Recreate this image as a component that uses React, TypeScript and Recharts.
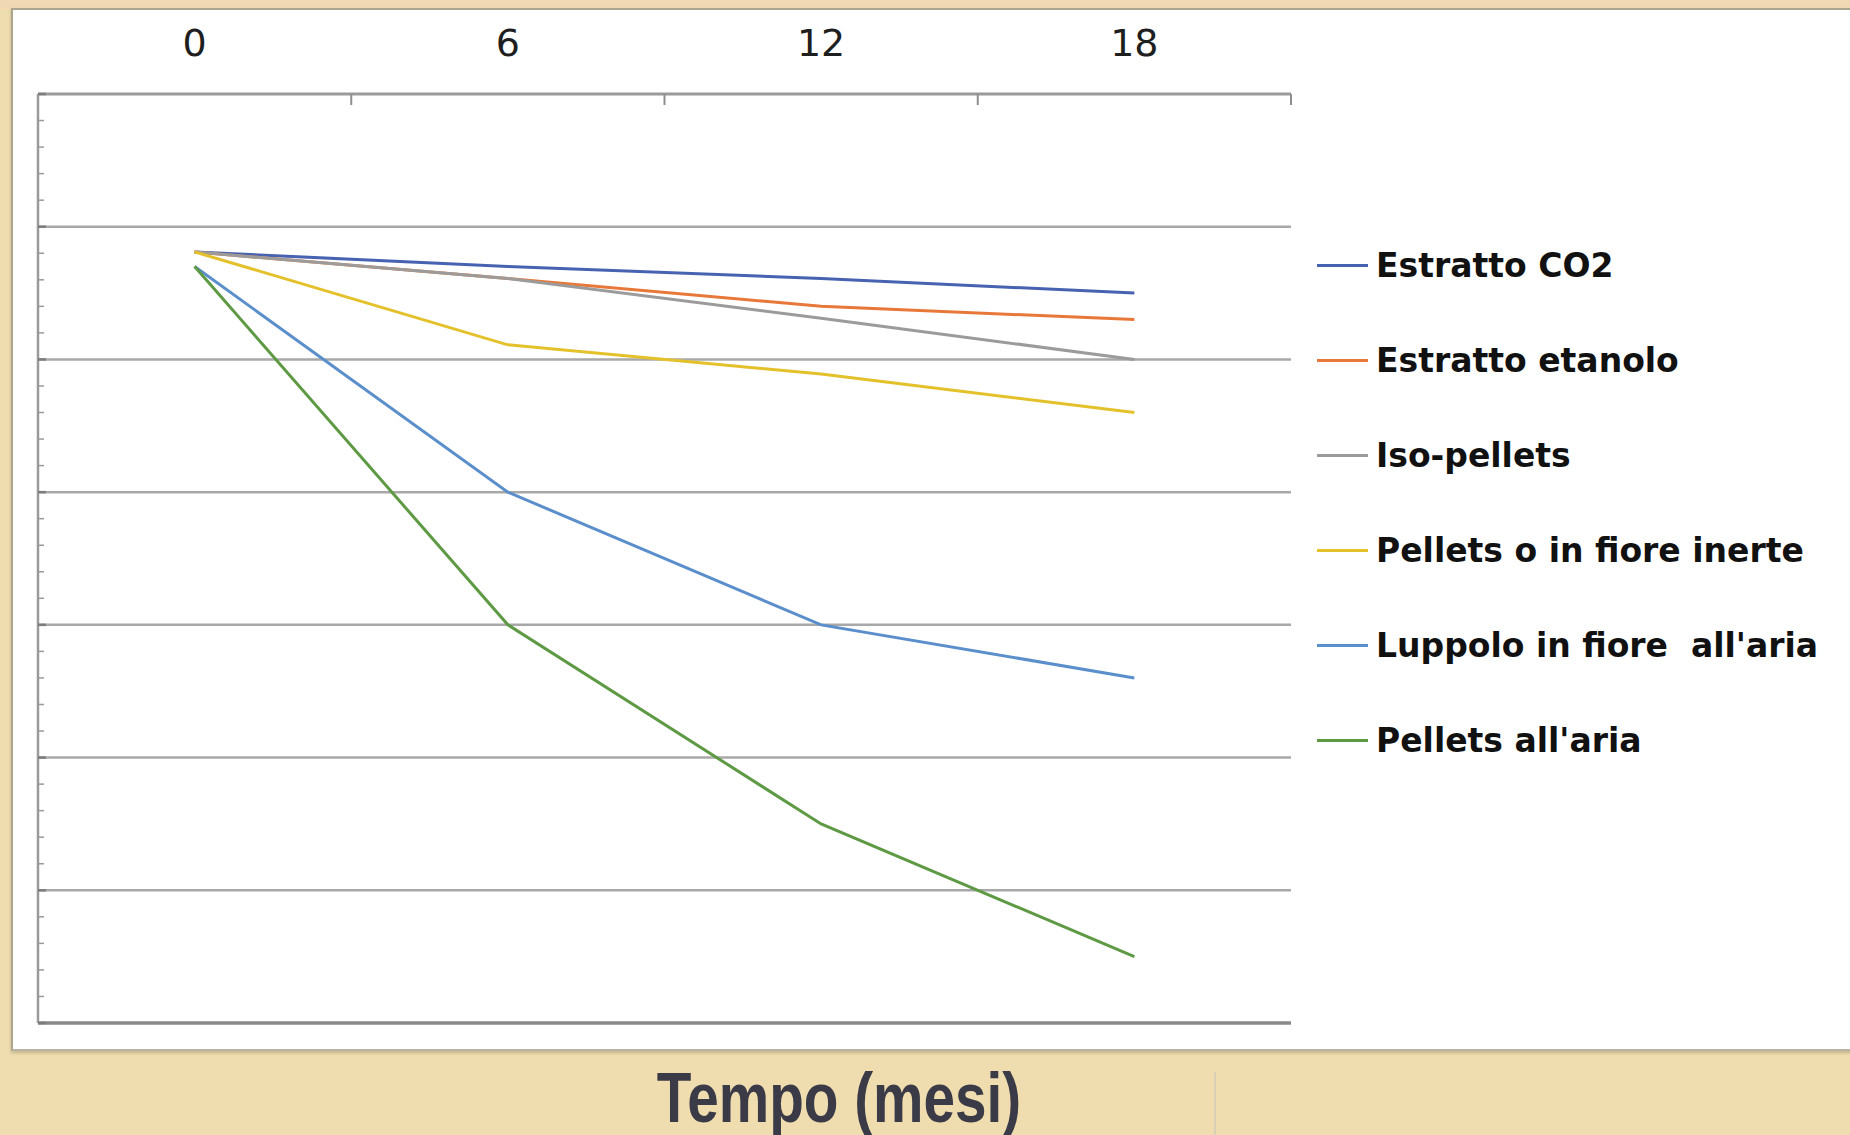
import React from 'react';
import { LineChart, Line, XAxis, YAxis, ReferenceLine, Legend } from 'recharts';

// Storage time in months
const months = [0, 6, 12, 18];
const monthLabels = ['0', '6', '12', '18'];
// Category boundaries on the top axis (tick marks between labels)
const boundaryTicks = [3, 9, 15, 21];
// Major horizontal gridlines and minor ticks on the value axis
const majorValues = [10, 20, 30, 40, 50, 60];
const minorTicks = [0, 2, 4, 6, 8, 10, 12, 14, 16, 18, 20, 22, 24, 26, 28, 30, 32, 34, 36, 38, 40, 42, 44, 46, 48, 50, 52, 54, 56, 58, 60, 62, 64, 66, 68, 70];

// Series values
const estrattoCO2 = [58.1, 57.0, 56.1, 55.0];
const estrattoEtanolo = [58.1, 56.1, 54.0, 53.0];
const isoPellets = [58.1, 56.1, 53.1, 50.0];
const pelletsInerte = [58.1, 51.1, 48.9, 46.0];
const luppoloAria = [57.0, 40.0, 30.0, 26.0];
const pelletsAria = [57.0, 30.0, 15.0, 5.0];

const seriesKeys = ['co2', 'etanolo', 'iso', 'inerte', 'luppolo', 'aria'];
const seriesNames = [
  'Estratto CO2',
  'Estratto etanolo',
  'Iso-pellets',
  'Pellets o in fiore inerte',
  "Luppolo in fiore  all'aria",
  "Pellets all'aria",
];
const seriesColors = ['#4862B2', '#E8783A', '#9B9B9B', '#E4C12A', '#5B8FCB', '#5E9944'];
const seriesValues = [estrattoCO2, estrattoEtanolo, isoPellets, pelletsInerte, luppoloAria, pelletsAria];

const data = months.map((m, i) => {
  const row: Record<string, number> = { mese: m };
  seriesKeys.forEach((k, s) => {
    row[k] = seriesValues[s][i];
  });
  return row;
});

const topTickValues = [...months, ...boundaryTicks].sort((a, b) => a - b);

const TopTick = (props: any) => {
  const { x, y, payload } = props;
  const v = payload.value;
  if (boundaryTicks.includes(v)) {
    return <line x1={x} y1={y} x2={x} y2={y + 11} stroke="#8e8e8e" strokeWidth={2} />;
  }
  const idx = months.indexOf(v);
  return (
    <text
      x={x}
      y={y - 38}
      textAnchor="middle"
      fontFamily="DejaVu Sans"
      fontSize={38}
      fill="#1e1e1e"
    >
      {monthLabels[idx]}
    </text>
  );
};

const LeftTick = (props: any) => {
  const { x, y, payload } = props;
  const major = payload.value % 10 === 0;
  return (
    <line
      x1={x}
      y1={y}
      x2={x + (major ? 8 : 6)}
      y2={y}
      stroke={major ? '#7d7d7d' : '#9a9a9a'}
      strokeWidth={major ? 2.5 : 1.5}
    />
  );
};

const LegendContent = (props: any) => {
  const items = [...(props.payload || [])].sort(
    (a: any, b: any) => seriesNames.indexOf(a.value) - seriesNames.indexOf(b.value)
  );
  return (
    <div>
      {items.map((entry: any) => (
        <div
          key={entry.value}
          style={{ height: 95, display: 'flex', alignItems: 'center' }}
        >
          <div style={{ width: 51, height: 3, background: entry.color, marginRight: 8 }} />
          <span
            style={{
              fontFamily: 'DejaVu Sans',
              fontWeight: 'bold',
              fontSize: 33,
              color: '#111111',
              whiteSpace: 'pre',
            }}
          >
            {entry.value}
          </span>
        </div>
      ))}
    </div>
  );
};

export default function App() {
  return (
    <div
      style={{
        position: 'absolute',
        left: 0,
        top: 0,
        width: 1850,
        height: 1135,
        background: '#EFDDB0',
        overflow: 'hidden',
      }}
    >
      <div style={{ position: 'absolute', left: 0, top: 0, width: 1850, height: 9, background: '#F1D8B4' }} />
      <div
        style={{
          position: 'absolute',
          left: 11,
          top: 8,
          width: 1850,
          height: 1039,
          background: '#FFFFFF',
          borderLeft: '2px solid #ABA58F',
          borderTop: '2px solid #ABA58F',
          borderBottom: '2px solid #B8B3A2',
          boxShadow: '0 2px 3px rgba(120,110,80,0.35)',
        }}
      />
      <div style={{ position: 'absolute', left: 0, top: 0 }}>
        <LineChart
          width={1850}
          height={1135}
          data={data}
          margin={{ top: 0, left: 0, right: 559, bottom: 112 }}
        >
          <XAxis
            type="number"
            dataKey="mese"
            orientation="top"
            domain={[-3, 21]}
            ticks={topTickValues}
            interval={0}
            height={94}
            tickSize={0}
            tickMargin={0}
            tickLine={false}
            axisLine={{ stroke: '#9a9a9a', strokeWidth: 3 }}
            tick={<TopTick />}
          />
          <YAxis
            type="number"
            domain={[0, 70]}
            ticks={minorTicks}
            interval={0}
            width={38}
            tickSize={0}
            tickMargin={0}
            tickLine={false}
            axisLine={{ stroke: '#9a9a9a', strokeWidth: 2.5 }}
            tick={<LeftTick />}
          />
          {majorValues.map((v) => (
            <ReferenceLine key={v} y={v} stroke="#a8a8a8" strokeWidth={2.5} />
          ))}
          <ReferenceLine y={0} stroke="#8a8a8a" strokeWidth={3.5} />
          <Legend
            layout="vertical"
            verticalAlign="middle"
            align="center"
            wrapperStyle={{ left: 1317, top: 218, width: 530, right: 'auto', bottom: 'auto' }}
            content={<LegendContent />}
          />
          {seriesKeys.map((k, s) => (
            <Line
              key={k}
              type="linear"
              dataKey={k}
              name={seriesNames[s]}
              stroke={seriesColors[s]}
              strokeWidth={3}
              dot={false}
              activeDot={false}
              isAnimationActive={false}
            />
          ))}
        </LineChart>
      </div>
      <svg
        width={1850}
        height={1135}
        style={{ position: 'absolute', left: 0, top: 0, pointerEvents: 'none' }}
      >
        <line x1={1215} y1={1072} x2={1215} y2={1135} stroke="#D9CFB6" strokeWidth={2} />
        <text
          transform="translate(839,1122) scale(0.81,1)"
          textAnchor="middle"
          fontFamily="Liberation Sans"
          fontWeight="bold"
          fontSize={70}
          fill="#3B3B47"
        >
          Tempo (mesi)
        </text>
      </svg>
    </div>
  );
}
